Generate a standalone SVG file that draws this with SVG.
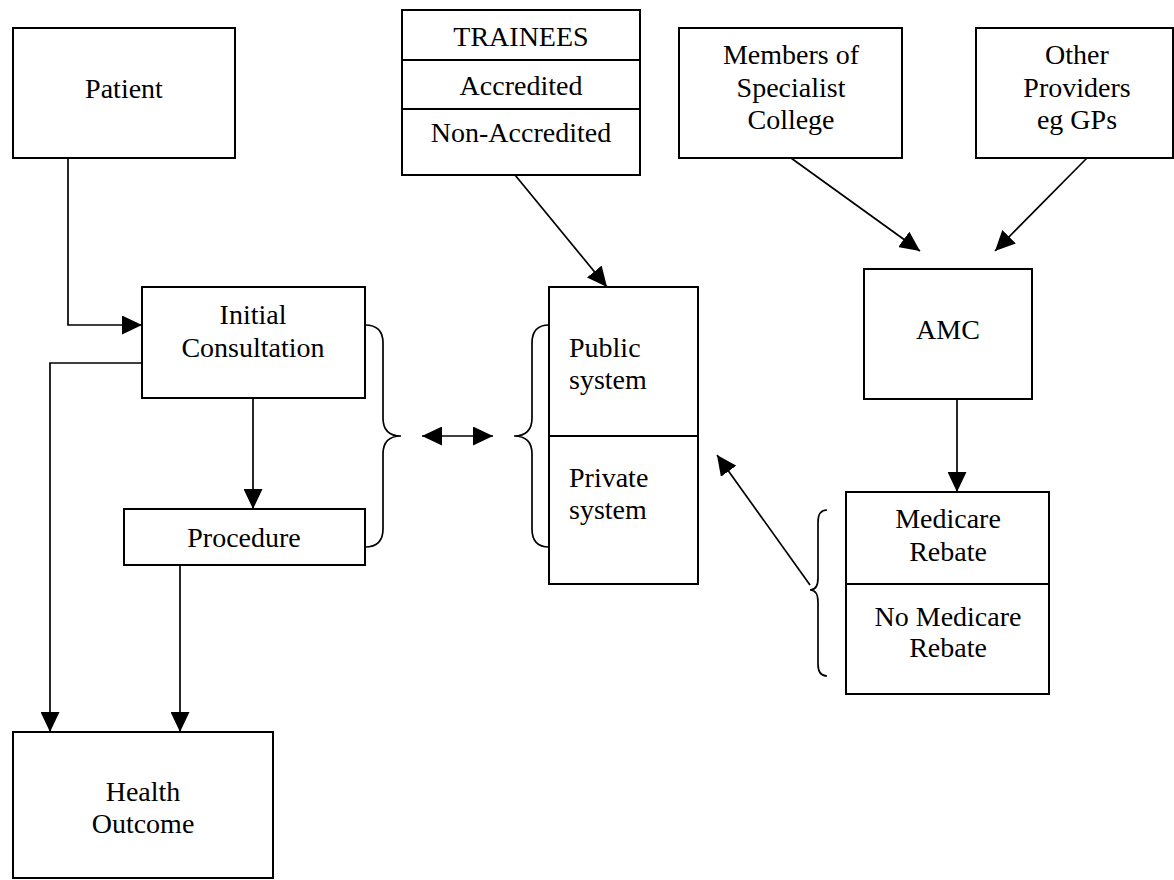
<svg xmlns="http://www.w3.org/2000/svg" width="1174" height="880" viewBox="0 0 1174 880">
  <style>
    .box { fill: #fff; stroke: #000; stroke-width: 2; }
    .div { stroke: #000; stroke-width: 2; }
    .lbl { font-family: "Liberation Serif", "Times New Roman", serif; font-size: 28px; fill: #000; }
    .c { text-anchor: middle; }
    .wire { fill: none; stroke: #000; stroke-width: 1.7; }
    .brace { fill: none; stroke: #000; stroke-width: 1.7; }
  </style>
  <defs>
    <marker id="arrow" markerUnits="userSpaceOnUse" markerWidth="20" markerHeight="19" refX="20" refY="9.5" orient="auto-start-reverse" viewBox="0 0 20 19">
      <path d="M0,0 L20,9.5 L0,19 z" fill="#000"/>
    </marker>
  </defs>
  <rect width="1174" height="880" fill="#fff"/>

  <g id="patient">
    <rect class="box" x="13" y="28" width="222" height="130"/>
    <text class="lbl c" x="124" y="98">Patient</text>
  </g>

  <g id="trainees">
    <rect class="box" x="402" y="10" width="238" height="165"/>
    <line class="div" x1="402" y1="60" x2="640" y2="60"/>
    <line class="div" x1="402" y1="109" x2="640" y2="109"/>
    <text class="lbl c" x="521" y="46">TRAINEES</text>
    <text class="lbl c" x="521" y="95">Accredited</text>
    <text class="lbl c" x="521" y="142">Non-Accredited</text>
  </g>

  <g id="specialist-college">
    <rect class="box" x="679" y="28" width="223" height="130"/>
    <text class="lbl c" x="791" y="64">Members of</text>
    <text class="lbl c" x="791" y="97">Specialist</text>
    <text class="lbl c" x="791" y="129">College</text>
  </g>

  <g id="other-providers">
    <rect class="box" x="976" y="28" width="197" height="130"/>
    <text class="lbl c" x="1077" y="64">Other</text>
    <text class="lbl c" x="1077" y="97">Providers</text>
    <text class="lbl c" x="1077" y="129">eg GPs</text>
  </g>

  <g id="initial-consultation">
    <rect class="box" x="142" y="287" width="223" height="111"/>
    <text class="lbl c" x="253" y="324">Initial</text>
    <text class="lbl c" x="253" y="357">Consultation</text>
  </g>

  <g id="procedure">
    <rect class="box" x="124" y="509" width="241" height="56"/>
    <text class="lbl c" x="244" y="547">Procedure</text>
  </g>

  <g id="health-outcome">
    <rect class="box" x="13" y="732" width="260" height="146"/>
    <text class="lbl c" x="143" y="801">Health</text>
    <text class="lbl c" x="143" y="833">Outcome</text>
  </g>

  <g id="systems">
    <rect class="box" x="549" y="287" width="149" height="297"/>
    <line class="div" x1="549" y1="436" x2="698" y2="436"/>
    <text class="lbl" x="569" y="357">Public</text>
    <text class="lbl" x="569" y="389">system</text>
    <text class="lbl" x="569" y="487">Private</text>
    <text class="lbl" x="569" y="519">system</text>
  </g>

  <g id="amc">
    <rect class="box" x="864" y="269" width="168" height="130"/>
    <text class="lbl c" x="948" y="339">AMC</text>
  </g>

  <g id="medicare">
    <rect class="box" x="846" y="492" width="203" height="202"/>
    <line class="div" x1="846" y1="584" x2="1049" y2="584"/>
    <text class="lbl c" x="948" y="528">Medicare</text>
    <text class="lbl c" x="948" y="561">Rebate</text>
    <text class="lbl c" x="948" y="626">No Medicare</text>
    <text class="lbl c" x="948" y="657">Rebate</text>
  </g>

  <g id="braces">
    <path class="brace" d="M365,325 Q383,325 383,343 L383,418 Q383,436 401,436 Q383,436 383,454 L383,529 Q383,547 365,547"/>
    <path class="brace" d="M549,325 Q532,325 532,343 L532,418 Q532,436 514,436 Q532,436 532,454 L532,529 Q532,547 549,547"/>
    <path class="brace" d="M827,510 Q818,510 818,522 L818,578 Q818,590 810,590 Q818,590 818,602 L818,664 Q818,676 827,676"/>
  </g>

  <g id="connectors">
    <path class="wire" d="M68,158 V325 H142" marker-end="url(#arrow)"/>
    <path class="wire" d="M142,363 H50 V732" marker-end="url(#arrow)"/>
    <path class="wire" d="M253,398 V509" marker-end="url(#arrow)"/>
    <path class="wire" d="M180,565 V732" marker-end="url(#arrow)"/>
    <path class="wire" d="M515,175 L607,287" marker-end="url(#arrow)"/>
    <path class="wire" d="M791,158 L920,251" marker-end="url(#arrow)"/>
    <path class="wire" d="M1087,158 L995,251" marker-end="url(#arrow)"/>
    <path class="wire" d="M957,399 V492" marker-end="url(#arrow)"/>
    <path class="wire" d="M810,585 L717,455" marker-end="url(#arrow)"/>
    <path class="wire" d="M422,436 H493" marker-start="url(#arrow)" marker-end="url(#arrow)"/>
  </g>
</svg>
